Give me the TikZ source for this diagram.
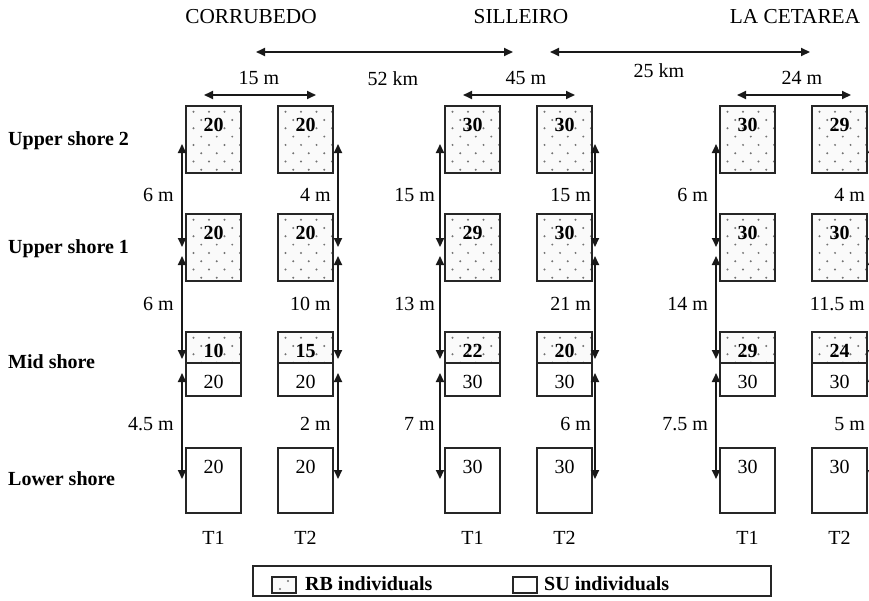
\documentclass[tikz,border=0pt]{standalone}
\usepackage{fontspec}
\setmainfont{Liberation Serif}
\usetikzlibrary{arrows.meta}
\tikzset{
  lbl/.style={font=\fontsize{20}{24}\selectfont, inner sep=0pt},
  blbl/.style={inner sep=0pt, font=\fontsize{20}{24}\selectfont\bfseries},
  ttl/.style={inner sep=0pt, font=\fontsize{21.3}{25}\selectfont},
  boxln/.style={draw=black!85, line width=1.8pt},
  rbfill/.style={fill=black!2},
  dimarrow/.style={line width=1.9pt, draw=black!90,
    {Triangle[length=9pt,width=8pt]}-{Triangle[length=9pt,width=8pt]}},
  dotstyle/.style={fill=black!55},
}
% RB (dotted) box: #1 name, #2 left, #3 top, #4 bottom, #5 number
\newcommand\rbbox[5]{%
  \fill[rbfill] (#2,#3) rectangle (#2+55,#4);
  \begin{scope}
    \clip (#2+1,#3+1) rectangle (#2+54,#4-1);
    \foreach \r in {0,...,8}{
      \foreach \k in {0,...,3}{
        \fill[dotstyle] ({#2+7.5+15.5*\k+7.75*mod(\r,2)},{#3+5.7+8.3*\r}) circle (1.1);
      }
    }
  \end{scope}
  \draw[boxln] (#2,#3) rectangle (#2+55,#4);
  \node[blbl, anchor=base] (#1) at (#2+27.5,#3+25.5) {#5};
}
% SU (plain) box
\newcommand\subox[5]{%
  \draw[boxln] (#2,#3) rectangle (#2+55,#4);
  \node[lbl, anchor=base] (#1) at (#2+27.5,#3+25.5) {#5};
}
% one column of plots: #1 id, #2 left, #3..#7 numbers, #8 T label
\newcommand\shorecol[8]{%
  \rbbox{#1u2}{#2}{106}{173}{#3}
  \rbbox{#1u1}{#2}{214}{281}{#4}
  \rbbox{#1mr}{#2}{332}{363}{#5}
  \subox{#1ms}{#2}{363}{396}{#6}
  \subox{#1lo}{#2}{448}{513}{#7}
  \node[lbl, anchor=base] (#1t) at (#2+27.5,544) {#8};
}
% vertical distance arrows: #1 id, #2 arrow x, #3 label east x, #4..#6 labels
\newcommand\vdims[6]{%
  \coordinate (#1a) at (#2,144);
  \coordinate (#1b) at (#2,247);
  \coordinate (#1c) at (#2,256);
  \coordinate (#1d) at (#2,359);
  \coordinate (#1e) at (#2,373);
  \coordinate (#1f) at (#2,479);
  \draw[dimarrow] (#1a) -- (#1b);
  \draw[dimarrow] (#1c) -- (#1d);
  \draw[dimarrow] (#1e) -- (#1f);
  \node[lbl, anchor=base east] (#1l1) at (#3,201.7) {#4};
  \node[lbl, anchor=base east] (#1l2) at (#3,310) {#5};
  \node[lbl, anchor=base east] (#1l3) at (#3,430) {#6};
}
\begin{document}
\begin{tikzpicture}[x=1pt,y=-1pt]
\useasboundingbox (0,0) rectangle (869,600);
\fill[white] (0,0) rectangle (869,600);

% site titles
\node[ttl, anchor=base] (corr) at (251,23) {CORRUBEDO};
\node[ttl, anchor=base] (sill) at (521,23) {SILLEIRO};
\node[ttl, anchor=base] (ceta) at (795,23) {LA CETAREA};

% between-site arrows
\coordinate (k1a) at (256,52);
\coordinate (k1b) at (513,52);
\coordinate (k2a) at (550,52);
\coordinate (k2b) at (810,52);
\draw[dimarrow] (k1a) -- (k1b);
\draw[dimarrow] (k2a) -- (k2b);
\node[lbl, anchor=base] (km52) at (393,85) {52 km};
\node[lbl, anchor=base] (km25) at (659,77) {25 km};

% within-site arrows
\coordinate (m1a) at (204,95);
\coordinate (m1b) at (316,95);
\coordinate (m2a) at (463,95);
\coordinate (m2b) at (575,95);
\coordinate (m3a) at (737,95);
\coordinate (m3b) at (851,95);
\draw[dimarrow] (m1a) -- (m1b);
\draw[dimarrow] (m2a) -- (m2b);
\draw[dimarrow] (m3a) -- (m3b);
\node[lbl, anchor=base] (m15) at (259,84) {15 m};
\node[lbl, anchor=base] (m45) at (526,84) {45 m};
\node[lbl, anchor=base] (m24) at (802,84) {24 m};

% row labels
\node[blbl, anchor=base west] (r1) at (8,145) {Upper shore 2};
\node[blbl, anchor=base west] (r2) at (8,253.3) {Upper shore 1};
\node[blbl, anchor=base west] (r3) at (8,368.3) {Mid shore};
\node[blbl, anchor=base west] (r4) at (8,485) {Lower shore};

% plots
\shorecol{ca}{186}{20}{20}{10}{20}{20}{T1}
\shorecol{cb}{278}{20}{20}{15}{20}{20}{T2}
\shorecol{sa}{445}{30}{29}{22}{30}{30}{T1}
\shorecol{sb}{537}{30}{30}{20}{30}{30}{T2}
\shorecol{la}{720}{30}{30}{29}{30}{30}{T1}
\shorecol{lb}{812}{29}{30}{24}{30}{30}{T2}

% vertical distances
\vdims{vca}{182}{174}{6 m}{6 m}{4.5 m}
\vdims{vcb}{338}{331}{4 m}{10 m}{2 m}
\vdims{vsa}{440}{435}{15 m}{13 m}{7 m}
\vdims{vsb}{595}{591}{15 m}{21 m}{6 m}
\vdims{vla}{716}{708}{6 m}{14 m}{7.5 m}
\vdims{vlb}{872}{865}{4 m}{11.5 m}{5 m}

% legend
\coordinate (lg1) at (253,566);
\coordinate (lg2) at (771,596);
\draw[line width=1.4pt, draw=black!85] (lg1) rectangle (lg2);
\coordinate (ic1) at (272,577);
\coordinate (ic2) at (296,593);
\fill[rbfill] (ic1) rectangle (ic2);
\fill[dotstyle] (280,589) circle (1.1);
\fill[dotstyle] (288,581) circle (1.1);
\draw[line width=1.4pt, draw=black!85] (ic1) rectangle (ic2);
\node[blbl, anchor=base west] (lgrb) at (305,590) {RB individuals};
\coordinate (ic3) at (513,577);
\coordinate (ic4) at (537,593);
\draw[line width=1.4pt, draw=black!85] (ic3) rectangle (ic4);
\node[blbl, anchor=base west] (lgsu) at (544,590) {SU individuals};
\end{tikzpicture}
\end{document}
